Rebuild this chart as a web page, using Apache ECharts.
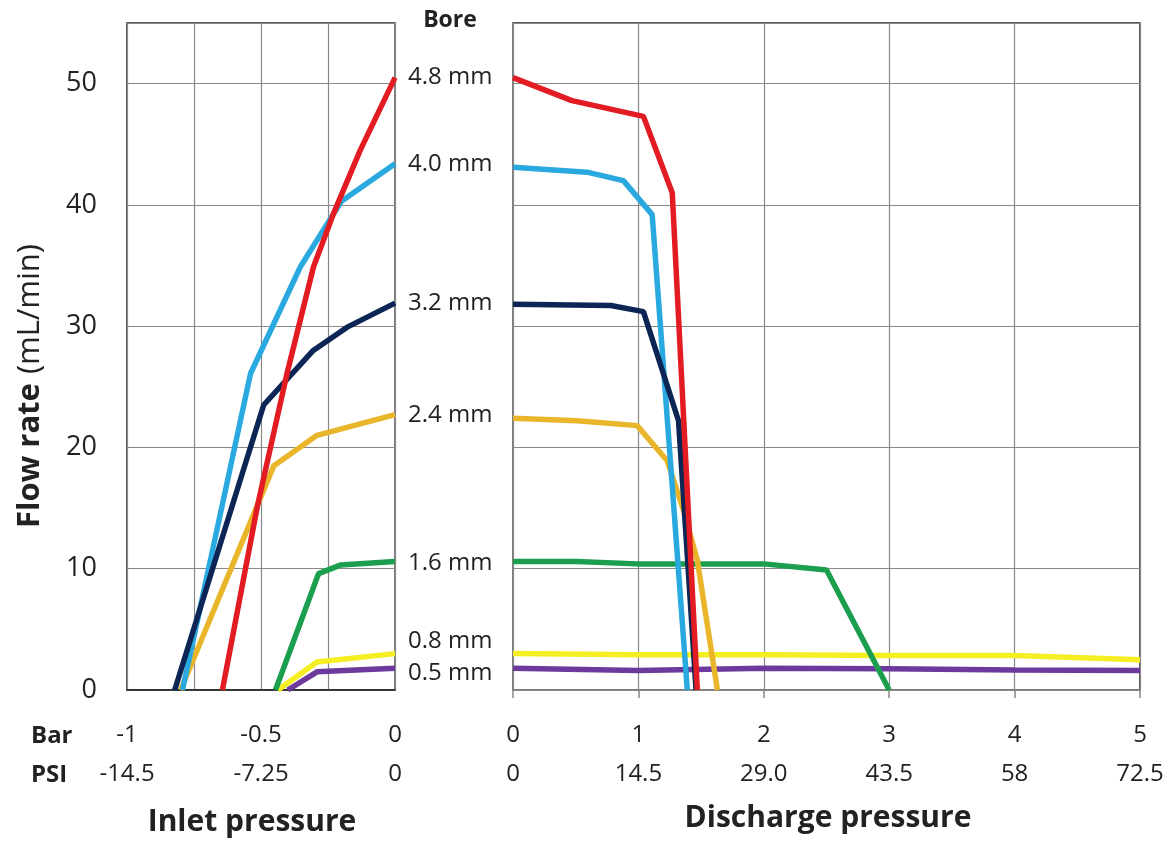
<!DOCTYPE html>
<html>
<head>
<meta charset="utf-8">
<script src="https://cdn.jsdelivr.net/npm/echarts@6/dist/echarts.min.js"></script>
<style>
html,body{margin:0;padding:0;background:#fff;}
#chart{width:1171px;height:844px;}
</style>
</head>
<body>
<div id="chart"></div>
<script>
// ---- Data ----
const bores = ['4.8 mm', '4.0 mm', '3.2 mm', '2.4 mm', '1.6 mm', '0.8 mm', '0.5 mm'];

// Inlet pressure (bar) vs flow rate (mL/min)
const inlet48 = [[-0.644, 0], [-0.514, 15.1], [-0.403, 26.1], [-0.304, 34.9], [-0.229, 39.3], [-0.13, 44.5], [0, 50.5]];
const inlet40 = [[-0.793, 0], [-0.539, 26.1], [-0.353, 34.9], [-0.2, 40.3], [0, 43.4]];
const inlet32 = [[-0.822, 0], [-0.49, 23.5], [-0.305, 28.0], [-0.18, 29.9], [0, 31.9]];
const inlet24 = [[-0.8, 0], [-0.452, 18.5], [-0.291, 21.0], [0, 22.7]];
const inlet16 = [[-0.446, 0], [-0.285, 9.6], [-0.204, 10.3], [0, 10.6]];
const inlet08 = [[-0.437, 0], [-0.291, 2.3], [0, 3.0]];
const inlet05 = [[-0.4, 0], [-0.291, 1.5], [0, 1.8]];

// Discharge pressure (bar) vs flow rate (mL/min)
const disch48 = [[0, 50.5], [0.47, 48.6], [1.04, 47.3], [1.27, 41.0], [1.47, 0]];
const disch40 = [[0, 43.1], [0.59, 42.7], [0.88, 42.0], [1.11, 39.2], [1.39, 0]];
const disch32 = [[0, 31.8], [0.78, 31.7], [1.04, 31.2], [1.32, 22.2], [1.46, 0]];
const disch24 = [[0, 22.4], [0.51, 22.2], [0.99, 21.8], [1.23, 18.9], [1.36, 14.8], [1.47, 10.7], [1.63, 0]];
const disch16 = [[0, 10.6], [0.51, 10.6], [0.99, 10.4], [2.0, 10.4], [2.5, 9.9], [3.0, 0]];
const disch08 = [[0, 3.0], [1, 2.9], [2, 2.9], [3, 2.85], [4, 2.85], [5, 2.5]];
const disch05 = [[0, 1.8], [1, 1.6], [2, 1.8], [3, 1.75], [4, 1.65], [5, 1.6]];

// Tick labels
const inletBarTicks = [-1, -0.5, 0];
const inletPsiTicks = ['-14.5', '-7.25', '0'];
const dischBarTicks = [0, 1, 2, 3, 4, 5];
const dischPsiTicks = ['0', '14.5', '29.0', '43.5', '58', '72.5'];

// ---- Styles ----
const colors = ['#e31b23', '#2aa9e0', '#0d2554', '#e9b52b', '#1c9e4f', '#f5ee23', '#6b3a9c'];
const zOrder = [7, 5, 6, 4, 3, 1, 2];
const endOffsets = [[0, 0], [0, 0], [0, 0], [0, 0], [0, 2], [0, -12], [0, 5]];
const FONT = '"Open Sans", "Noto Sans", sans-serif';

const inletData = [inlet48, inlet40, inlet32, inlet24, inlet16, inlet08, inlet05];
const dischData = [disch48, disch40, disch32, disch24, disch16, disch08, disch05];

const chart = echarts.init(document.getElementById('chart'), null, {renderer: 'canvas'});

function labelFmt(barTicks, psiTicks) {
  return function (v) {
    const i = barTicks.findIndex(b => Math.abs(b - v) < 1e-9);
    if (i < 0) return '';
    return '{a|' + barTicks[i] + '}\n{b|' + psiTicks[i] + '}';
  };
}
const richLbl = {
  a: {fontSize: 24, fontFamily: FONT, color: '#222', lineHeight: 39},
  b: {fontSize: 24, fontFamily: FONT, color: '#222', lineHeight: 39}
};

const LW = 5.5;
const series = [];
bores.forEach((name, i) => {
  series.push({
    name: name, type: 'line', xAxisIndex: 0, yAxisIndex: 0,
    data: inletData[i], showSymbol: false, symbol: 'none', z: 2 + zOrder[i] / 10,
    lineStyle: {color: colors[i], width: LW},
    itemStyle: {color: colors[i]},
    endLabel: {
      show: true, formatter: name, distance: 13, offset: endOffsets[i],
      fontSize: 24, fontFamily: FONT, color: '#222'
    }
  });
  series.push({
    name: name, type: 'line', xAxisIndex: 1, yAxisIndex: 1,
    data: dischData[i], showSymbol: false, symbol: 'none', z: 2 + zOrder[i] / 10,
    lineStyle: {color: colors[i], width: LW},
    itemStyle: {color: colors[i]}
  });
});

const option = {
  animation: false,
  backgroundColor: '#fff',
  textStyle: {fontFamily: FONT},
  grid: [
    {left: 127, width: 268, top: 23, height: 667, show: true, borderColor: '#222', borderWidth: 1.5, backgroundColor: 'transparent'},
    {left: 513, width: 627, top: 23, height: 667, show: true, borderColor: '#222', borderWidth: 1.5, backgroundColor: 'transparent'}
  ],
  xAxis: [
    {
      type: 'value', gridIndex: 0, min: -1, max: 0, interval: 0.25,
      axisLine: {show: true, onZero: false, lineStyle: {color: '#222', width: 1.5}},
      axisTick: {show: false},
      splitLine: {show: true, lineStyle: {color: '#888', width: 1.2}},
      axisLabel: {formatter: labelFmt(inletBarTicks, inletPsiTicks), rich: richLbl, margin: 26, hideOverlap: false, showMinLabel: true, showMaxLabel: true}
    },
    {
      type: 'value', gridIndex: 1, min: 0, max: 5, interval: 1,
      axisLine: {show: true, onZero: false, lineStyle: {color: '#888', width: 1.5}},
      axisTick: {show: true, length: 8, lineStyle: {color: '#888', width: 1.5}},
      splitLine: {show: true, lineStyle: {color: '#888', width: 1.2}},
      axisLabel: {formatter: labelFmt(dischBarTicks, dischPsiTicks), rich: richLbl, margin: 26, hideOverlap: false, showMinLabel: true, showMaxLabel: true}
    }
  ],
  yAxis: [
    {
      type: 'value', gridIndex: 0, min: 0, max: 55, interval: 10,
      axisLine: {show: true, lineStyle: {color: '#888', width: 1.5}},
      axisTick: {show: false},
      splitLine: {show: true, lineStyle: {color: '#888', width: 1.2}},
      axisLabel: {showMaxLabel: false, fontSize: 27, fontFamily: FONT, color: '#222', margin: 30}
    },
    {
      type: 'value', gridIndex: 1, min: 0, max: 55, interval: 10,
      axisLine: {show: true, lineStyle: {color: '#888', width: 1.5}},
      axisTick: {show: false},
      splitLine: {show: true, lineStyle: {color: '#888', width: 1.2}},
      axisLabel: {show: false}
    }
  ],
  graphic: [
    {type: 'text', x: 450, y: 20, style: {text: 'Bore', align: 'center', verticalAlign: 'middle', font: 'bold 23px ' + FONT, fill: '#222'}},
    {type: 'text', x: 31, y: 736, style: {text: 'Bar', align: 'left', verticalAlign: 'middle', font: 'bold 24px ' + FONT, fill: '#222'}},
    {type: 'text', x: 31, y: 775, style: {text: 'PSI', align: 'left', verticalAlign: 'middle', font: 'bold 24px ' + FONT, fill: '#222'}},
    {type: 'text', x: 252, y: 822, style: {text: 'Inlet pressure', align: 'center', verticalAlign: 'middle', font: 'bold 30px ' + FONT, fill: '#222'}},
    {type: 'text', x: 828, y: 818, style: {text: 'Discharge pressure', align: 'center', verticalAlign: 'middle', font: 'bold 30px ' + FONT, fill: '#222'}},
    {type: 'text', x: 30, y: 386, rotation: Math.PI / 2,
      style: {text: '{t|Flow rate}{u|(mL/min)}', align: 'center', verticalAlign: 'middle',
        rich: {t: {font: 'bold 31px ' + FONT, fill: '#222', padding: [0, 9, 0, 0]}, u: {font: '31px ' + FONT, fill: '#222'}}}}
  ],
  series: series
};
chart.setOption(option);
</script>
</body>
</html>
